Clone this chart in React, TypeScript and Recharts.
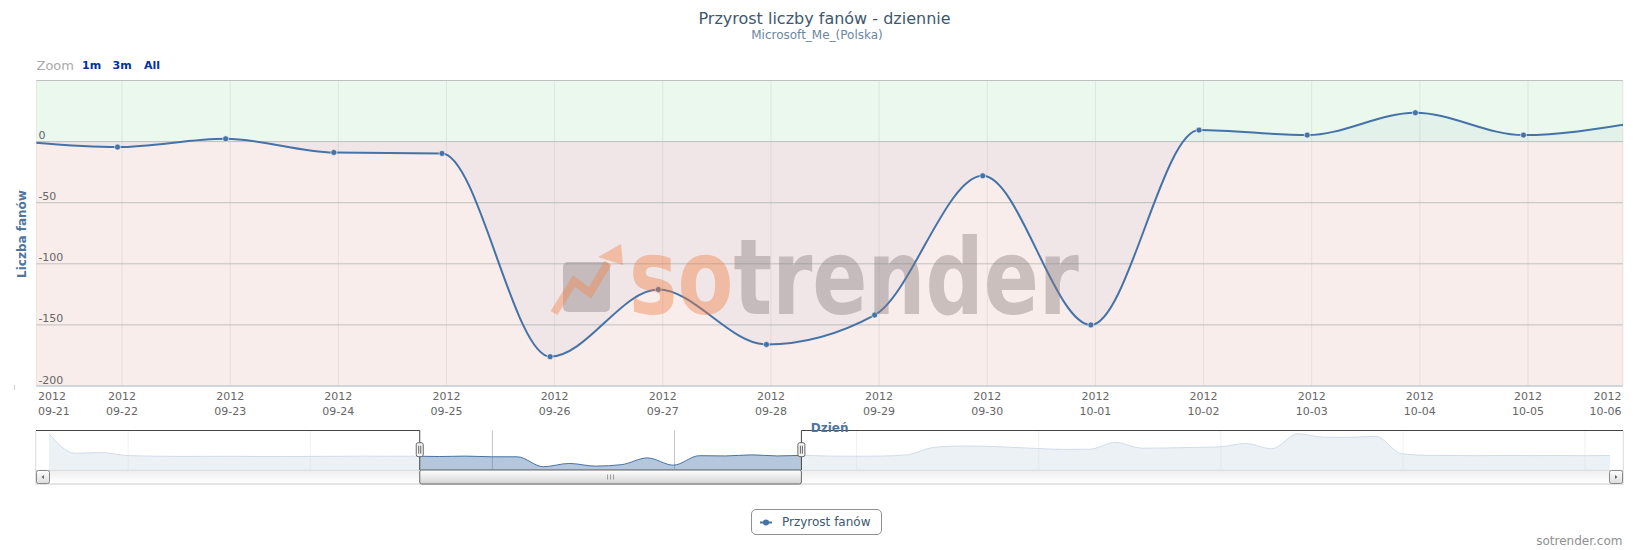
import React from "react";
import {
  ComposedChart,
  Area,
  XAxis,
  YAxis,
  CartesianGrid,
  ReferenceArea,
  ReferenceLine,
} from "recharts";

const FONT = '"DejaVu Sans", sans-serif';

// daily fan growth, 2012-09-21 .. 2012-10-06
const YEAR = "2012";
const DAYS = [
  "09-21", "09-22", "09-23", "09-24", "09-25", "09-26", "09-27", "09-28",
  "09-29", "09-30", "10-01", "10-02", "10-03", "10-04", "10-05", "10-06",
];
const FAN_GROWTH = [1, -4.5, 2.3, -8.9, -9.7, -176, -121, -166, -142, -28, -150, 9.4, 5.3, 23.6, 5.3, 15];
const Y_TICKS = [-200, -150, -100, -50, 0, 50];

// visible window, in days from 09-21
const VIEW_START = 0.25;
const VIEW_END = 14.92;
const TICK_SHIFT = 1 / 24; // ticks sit an hour after the points

// navigator history: 7 wrz .. 20 wrz, then the window above, then 7 paź .. 6 lis
const NAV_BEFORE = [378, 50, 62, 12, 2, -3, -2, 0, -4, -6, -3, -1, 2, 0];
const NAV_AFTER = [
  2, 0, 3, 25, 150, 172, 168, 150, 130, 115, 118, 235, 135, 140, 148, 158,
  215, 125, 378, 320, 318, 335, 40, 15, 12, 10, 13, 11, 12, 10, 12,
];
const NAV_WEEKS = ["10. wrz", "17. wrz", "24. wrz", "1. paź", "8. paź", "15. paź", "22. paź", "29. paź", "5. lis"];
const NAV_FIRST_WEEK = 3; // 10 wrz is day 3 of the history

const mainData = FAN_GROWTH.map((fans, day) => ({ day, fans }));
const xTicks = [
  VIEW_START,
  ...DAYS.map((_, i) => i + TICK_SHIFT).filter((t) => t > VIEW_START && t < VIEW_END),
  VIEW_END,
];

const navValues = [...NAV_BEFORE, ...FAN_GROWTH, ...NAV_AFTER];
const navData = navValues.map((v, n) => ({ n, v }));
const navLo = Math.min(...navValues);
const navHi = Math.max(...navValues);
const navPad = (navHi - navLo) * 0.1;
const NAV_Y: [number, number] = [navLo - navPad, navHi + navPad];
const NAV_X: [number, number] = [-0.5, navValues.length - 0.5];
const navTicks = NAV_WEEKS.map((_, i) => NAV_FIRST_WEEK + i * 7 + TICK_SHIFT);
const SEL_START = NAV_BEFORE.length + VIEW_START;
const SEL_END = NAV_BEFORE.length + VIEW_END;

const SERIES = "#4572A7";
const OUTLINE = "#444";

function DayTick(props: any) {
  const { x, y, payload } = props;
  const v = payload.value;
  let anchor = "middle";
  let tx = x;
  if (v === VIEW_START) {
    anchor = "start";
    tx = x + 1.5;
  } else if (v === VIEW_END) {
    anchor = "end";
    tx = x - 1.5;
  }
  return (
    <text x={tx} y={y} textAnchor={anchor} fill="#666" fontSize={11} fontFamily={FONT}>
      <tspan x={tx} dy={13.7}>{YEAR}</tspan>
      <tspan x={tx} dy={15}>{DAYS[Math.round(v)]}</tspan>
    </text>
  );
}

function ValueLabel({ viewBox, value }: any) {
  if (!viewBox) return <g />;
  return (
    <text x={viewBox.x + 2} y={viewBox.y - 2.5} fill="#666" fontSize={11} fontFamily={FONT}>
      {value}
    </text>
  );
}

function WeekTick(props: any) {
  const { x, y, payload } = props;
  const i = Math.round((payload.value - NAV_FIRST_WEEK) / 7);
  const last = i === NAV_WEEKS.length - 1;
  return (
    <text
      x={last ? x + 11 : x + 3}
      y={y - 3}
      textAnchor={last ? "end" : "start"}
      fill="#666"
      fontSize={11}
      fontFamily={FONT}
    >
      {NAV_WEEKS[i]}
    </text>
  );
}

function ScrollButton({ x, y, dir }: { x: number; y: number; dir: number }) {
  const cx = x + 7;
  const cy = y + 7;
  const pts =
    dir < 0
      ? `${cx - 1.5},${cy} ${cx + 1},${cy - 2} ${cx + 1},${cy + 2}`
      : `${cx + 1.5},${cy} ${cx - 1},${cy - 2} ${cx - 1},${cy + 2}`;
  return (
    <g>
      <rect x={x + 0.5} y={y + 0.5} width={13} height={13} rx={2} fill="url(#btnFill)" stroke="#888" />
      <polygon points={pts} fill="#666" />
    </g>
  );
}

function TrackShape(p: any) {
  const { x, y, width, height } = p;
  const ty = y + height;
  return (
    <g>
      <rect x={x} y={ty} width={width} height={14} fill="url(#trackFill)" stroke="#ccc" />
      <ScrollButton x={x} y={ty} dir={-1} />
      <ScrollButton x={x + width - 14} y={ty} dir={1} />
    </g>
  );
}

function LeftMask(p: any) {
  const { x, y, width, height } = p;
  return (
    <g>
      <rect x={x} y={y} width={width} height={height} fill="#fff" fillOpacity={0.75} />
      <path d={`M${x},${y} H${x + width} V${y + height}`} fill="none" stroke={OUTLINE} />
    </g>
  );
}

function RightMask(p: any) {
  const { x, y, width, height } = p;
  return (
    <g>
      <rect x={x} y={y} width={width} height={height} fill="#fff" fillOpacity={0.75} />
      <path d={`M${x},${y + height} V${y} H${x + width}`} fill="none" stroke={OUTLINE} />
    </g>
  );
}

function Handle({ cx, cy }: { cx: number; cy: number }) {
  return (
    <g>
      <rect x={cx - 3.5} y={cy - 7} width={7} height={14} rx={2} fill="#f4f4f4" stroke="#666" />
      <line x1={cx - 1} x2={cx - 1} y1={cy - 4} y2={cy + 4} stroke="#666" />
      <line x1={cx + 1} x2={cx + 1} y1={cy - 4} y2={cy + 4} stroke="#666" />
    </g>
  );
}

function SelectionShape(p: any) {
  const { x, y, width, height } = p;
  const ty = y + height;
  const mid = x + width / 2;
  return (
    <g>
      <rect x={x} y={ty} width={width} height={14} rx={2} fill="url(#thumbFill)" stroke="#666" />
      {[-3, 0, 3].map((d) => (
        <line key={d} x1={mid + d} x2={mid + d} y1={ty + 4.5} y2={ty + 9.5} stroke="#999" />
      ))}
      <Handle cx={x} cy={y + 19.2} />
      <Handle cx={x + width} cy={y + 19.2} />
    </g>
  );
}

function Watermark() {
  return (
    <svg
      width={1633}
      height={550}
      style={{ position: "absolute", left: 0, top: 0, pointerEvents: "none" }}
    >
      <defs>
        <linearGradient id="wmFill" x1="0" y1="0" x2="1" y2="0">
          <stop offset="0" stopColor="#f07a3c" />
          <stop offset="0.235" stopColor="#f07a3c" />
          <stop offset="0.235" stopColor="#857a7a" />
          <stop offset="1" stopColor="#857a7a" />
        </linearGradient>
      </defs>
      <rect x={563} y={262} width={47} height={50} rx={5} fill="#857a7a" fillOpacity={0.4} />
      <polyline
        points="554,313 574,281 590,293 608,263"
        fill="none"
        stroke="#f08a50"
        strokeOpacity={0.45}
        strokeWidth={8}
      />
      <polygon points="621,244 598,257 623,265" fill="#f08a50" fillOpacity={0.45} />
      <text
        x={629}
        y={314}
        fontFamily={FONT}
        fontWeight={700}
        fontSize={106}
        textLength={450}
        lengthAdjust="spacingAndGlyphs"
        fill="url(#wmFill)"
        fillOpacity={0.4}
      >
        sotrender
      </text>
    </svg>
  );
}

const abs = (s: React.CSSProperties): React.CSSProperties => ({
  position: "absolute",
  whiteSpace: "nowrap",
  fontFamily: FONT,
  ...s,
});

export default function App() {
  return (
    <div style={{ position: "absolute", left: 0, top: 0, width: 1633, height: 550, background: "#fff", fontFamily: FONT }}>
      <svg width={0} height={0} style={{ position: "absolute" }}>
        <defs>
          <linearGradient id="trackFill" x1="0" y1="0" x2="0" y2="1">
            <stop offset="0" stopColor="#eeeeee" />
            <stop offset="1" stopColor="#ffffff" />
          </linearGradient>
          <linearGradient id="btnFill" x1="0" y1="0" x2="0" y2="1">
            <stop offset="0" stopColor="#ffffff" />
            <stop offset="1" stopColor="#dddddd" />
          </linearGradient>
          <linearGradient id="thumbFill" x1="0" y1="0" x2="0" y2="1">
            <stop offset="0" stopColor="#ffffff" />
            <stop offset="1" stopColor="#d4d4d4" />
          </linearGradient>
        </defs>
      </svg>

      <div style={abs({ left: 824.5, top: 9, transform: "translateX(-50%)", fontSize: 16, lineHeight: "20px", color: "#3E576F" })}>
        Przyrost liczby fanów - dziennie
      </div>
      <div style={abs({ left: 817, top: 28, transform: "translateX(-50%)", fontSize: 12, lineHeight: "14px", color: "#6D869F" })}>
        Microsoft_Me_(Polska)
      </div>

      <div style={abs({ left: 36.5, top: 58, fontSize: 13, lineHeight: "16px", color: "#aaa" })}>Zoom</div>
      <div style={abs({ left: 82, top: 58, fontSize: 11, lineHeight: "16px", fontWeight: "bold", color: "#039" })}>1m</div>
      <div style={abs({ left: 112.5, top: 58, fontSize: 11, lineHeight: "16px", fontWeight: "bold", color: "#039" })}>3m</div>
      <div style={abs({ left: 144, top: 58, fontSize: 11, lineHeight: "16px", fontWeight: "bold", color: "#039" })}>All</div>

      <div style={{ position: "absolute", left: 0, top: 0 }}>
        <ComposedChart
          width={1633}
          height={420}
          data={mainData}
          margin={{ top: 80.5, right: 10, bottom: 0, left: 36.4 }}
        >
          <ReferenceArea y1={0} y2={50} fill="#EAF8EE" fillOpacity={1} stroke="none" zIndex={-150} />
          <ReferenceArea y1={-200} y2={0} fill="#F9EDEB" fillOpacity={1} stroke="none" zIndex={-150} />
          <CartesianGrid horizontal={false} stroke="#000" strokeOpacity={0.07} />
          <CartesianGrid vertical={false} stroke="#C0C0C0" />
          <Area
            type="monotone"
            dataKey="fans"
            baseValue={0}
            stroke={SERIES}
            strokeWidth={2}
            fill={SERIES}
            fillOpacity={0.05}
            dot={{ r: 3, fill: SERIES, fillOpacity: 1, stroke: "#fff", strokeWidth: 0.6, strokeOpacity: 1 }}
            activeDot={false}
            isAnimationActive={false}
          />
          {Y_TICKS.slice(0, -1).map((v) => (
            <ReferenceLine
              key={v}
              y={v}
              stroke="none"
              label={(p: any) => <ValueLabel {...p} value={v} />}
            />
          ))}
          <YAxis
            type="number"
            domain={[-200, 50]}
            ticks={Y_TICKS}
            interval={0}
            width={0}
            axisLine={false}
            tickLine={false}
            tick={() => <g />}
          />
          <XAxis
            type="number"
            dataKey="day"
            domain={[VIEW_START, VIEW_END]}
            allowDataOverflow
            ticks={xTicks}
            interval={0}
            height={34}
            tickSize={0}
            tickMargin={0}
            tickLine={false}
            axisLine={{ stroke: "#C0D0E0" }}
            tick={(p: any) => <DayTick {...p} />}
          />
        </ComposedChart>
      </div>

      <Watermark />

      <div style={abs({ left: 22, top: 233.5, transform: "translate(-50%, -50%) rotate(-90deg)", fontSize: 12, fontWeight: "bold", color: "#4D759E" })}>
        Liczba fanów
      </div>

      <div style={{ position: "absolute", left: 0, top: 420 }}>
        <ComposedChart
          width={1633}
          height={70}
          data={navData}
          margin={{ top: 10.5, right: 10, bottom: 20, left: 36 }}
        >
          <CartesianGrid horizontal={false} stroke="#C4C4C4" />
          <ReferenceArea x1={NAV_X[0]} x2={NAV_X[1]} shape={(p: any) => <TrackShape {...p} />} zIndex={50} />
          <Area
            type="monotone"
            dataKey="v"
            baseValue="dataMin"
            stroke={SERIES}
            strokeWidth={1}
            fill={SERIES}
            fillOpacity={0.4}
            dot={false}
            activeDot={false}
            isAnimationActive={false}
          />
          <ReferenceArea x1={NAV_X[0]} x2={SEL_START} shape={(p: any) => <LeftMask {...p} />} zIndex={150} />
          <ReferenceArea x1={SEL_END} x2={NAV_X[1]} shape={(p: any) => <RightMask {...p} />} zIndex={150} />
          <ReferenceArea x1={SEL_START} x2={SEL_END} shape={(p: any) => <SelectionShape {...p} />} zIndex={160} />
          <YAxis hide type="number" domain={NAV_Y} allowDataOverflow />
          <XAxis
            type="number"
            dataKey="n"
            domain={NAV_X}
            allowDataOverflow
            ticks={navTicks}
            interval={0}
            height={0}
            tickSize={0}
            tickMargin={0}
            axisLine={false}
            tickLine={false}
            tick={(p: any) => <WeekTick {...p} />}
          />
        </ComposedChart>
      </div>

      <div style={abs({ left: 829.7, top: 419.5, transform: "translateX(-50%)", fontSize: 12, lineHeight: "16px", fontWeight: "bold", color: "#4D759E" })}>
        Dzień
      </div>

      <div style={{ position: "absolute", left: 14, top: 385, width: 1, height: 5, background: "#ccc" }} />

      <div
        style={abs({
          left: 751,
          top: 509,
          width: 129,
          height: 24,
          border: "1px solid #909090",
          borderRadius: 5,
          display: "flex",
          alignItems: "center",
        })}
      >
        <svg width={30} height={24} style={{ flex: "none" }}>
          <line x1={8} x2={20} y1={12.5} y2={12.5} stroke={SERIES} strokeWidth={2} />
          <circle cx={14} cy={12.5} r={3} fill={SERIES} />
        </svg>
        <span style={{ fontSize: 12, color: "#3E576F" }}>Przyrost fanów</span>
      </div>

      <div style={abs({ right: 10.5, top: 534, fontSize: 12, lineHeight: "15px", color: "#909090" })}>sotrender.com</div>
    </div>
  );
}
